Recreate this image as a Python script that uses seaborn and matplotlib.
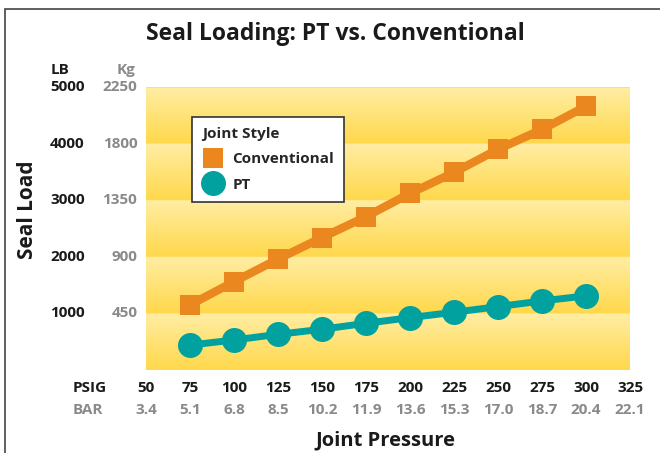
import numpy as np
import pandas as pd
import matplotlib
matplotlib.use("Agg")
import matplotlib.pyplot as plt
import seaborn as sns
from matplotlib.lines import Line2D
from matplotlib.patches import Rectangle
from matplotlib.colors import LinearSegmentedColormap

# datos
pressure = [75, 100, 125, 150, 175, 200, 225, 250, 275, 300]
conventional = [1150, 1560, 1960, 2340, 2710, 3120, 3490, 3900, 4250, 4660]
pt = [440, 530, 630, 720, 825, 925, 1020, 1120, 1220, 1310]

lb_ticks = [1000, 2000, 3000, 4000, 5000]
kg_labels = ["450", "900", "1350", "1800", "2250"]
psig_ticks = [50, 75, 100, 125, 150, 175, 200, 225, 250, 275, 300, 325]
bar_labels = ["3.4", "5.1", "6.8", "8.5", "10.2", "11.9", "13.6", "15.3",
              "17.0", "18.7", "20.4", "22.1"]

orange = "#EA871F"
teal = "#00A19F"
gray = "#8A8A8A"
dark = "#1A1A1A"

sns.set_style("white")
plt.rcParams["font.family"] = ["Open Sans", "DejaVu Sans"]
plt.rcParams["font.weight"] = "bold"

fig = plt.figure(figsize=(6.6, 4.53), dpi=100)
ax = fig.add_axes([146 / 660, 1 - 370 / 453, 484 / 660, 283 / 453])

# fondo con bandas en degradado
x0, x1 = 50, 325
y0, y1 = 0, 5000
cmap = LinearSegmentedColormap.from_list("band", ["#FFD84B", "#FFEDA3"])
rows = np.linspace(y1, y0, 500)
grad = ((rows % 1000) / 1000.0).reshape(-1, 1)
ax.imshow(grad, cmap=cmap, aspect="auto", extent=[x0, x1, y0, y1],
          interpolation="bilinear", zorder=0)

df = pd.DataFrame({"pressure": pressure, "Conventional": conventional, "PT": pt})

sns.lineplot(ax=ax, data=df, x="pressure", y="Conventional", color=orange,
             lw=6, marker="s", markersize=14.5, markeredgewidth=0, zorder=3)
sns.lineplot(ax=ax, data=df, x="pressure", y="PT", color=teal,
             lw=5, marker="o", markersize=18, markeredgewidth=0, zorder=3)

ax.set_xlim(x0, x1)
ax.set_ylim(y0, y1)
ax.set_xticks([])
ax.set_yticks([])
ax.set_xlabel("")
ax.set_ylabel("")
sns.despine(ax=ax, left=True, bottom=True)

fs = 11

# etiquetas eje Y (LB y Kg)
ytr = ax.get_yaxis_transform()
for v, kg in zip(lb_ticks, kg_labels):
    ax.text(-0.198, v, str(v), transform=ytr, ha="left", va="center",
            fontsize=fs, fontweight="bold", color=dark)
    ax.text(-0.018, v, kg, transform=ytr, ha="right", va="center",
            fontsize=fs, fontweight="bold", color=gray)
ax.text(-0.198, 5300, "LB", transform=ytr, ha="left", va="center",
        fontsize=fs, fontweight="bold", color=dark)
ax.text(-0.022, 5300, "Kg", transform=ytr, ha="right", va="center",
        fontsize=fs, fontweight="bold", color=gray)

# etiquetas eje X (PSIG y BAR)
xtr = ax.get_xaxis_transform()
for p, b in zip(psig_ticks, bar_labels):
    ax.text(p, -0.064, str(p), transform=xtr, ha="center", va="center",
            fontsize=fs, fontweight="bold", color=dark)
    ax.text(p, -0.141, b, transform=xtr, ha="center", va="center",
            fontsize=fs, fontweight="bold", color=gray)
ax.text(-0.151, -0.064, "PSIG", transform=ax.transAxes, ha="left", va="center",
        fontsize=fs, fontweight="bold", color=dark)
ax.text(-0.151, -0.141, "BAR", transform=ax.transAxes, ha="left", va="center",
        fontsize=fs, fontweight="bold", color=gray)

ax.text(0.494, -0.25, "Joint Pressure", transform=ax.transAxes, ha="center",
        va="center", fontsize=14.5, fontweight="bold", color=dark)
ax.text(-0.244, 0.565, "Seal Load", transform=ax.transAxes, ha="center",
        va="center", rotation=90, fontsize=15, fontweight="bold", color=dark)

fig.text(0.508, 1 - 34 / 453, "Seal Loading: PT vs. Conventional", ha="center",
         va="center", fontsize=16.5, fontweight="bold", color=dark)

# leyenda
handles = [
    Line2D([], [], linestyle="none", marker="s", markersize=14.5,
           markeredgewidth=0, color=orange, label="Conventional"),
    Line2D([], [], linestyle="none", marker="o", markersize=18,
           markeredgewidth=0, color=teal, label="PT"),
]
leg = ax.legend(handles=handles, title="Joint Style", loc="upper left",
                bbox_to_anchor=(0.095, 0.894), borderaxespad=0, fancybox=False,
                framealpha=1, edgecolor="#333333", prop={"size": fs, "weight": "bold"},
                title_fontproperties={"size": fs, "weight": "bold"},
                alignment="left", handlelength=1.5, handletextpad=0.5,
                labelspacing=0.75, borderpad=0.65)
leg.get_frame().set_linewidth(1.2)
leg.set_zorder(5)

# marco de la figura
fig.patches.append(Rectangle((5 / 660, -0.1), 2, 0.1 + 1 - 9 / 453, fill=False,
                             edgecolor="#444444", lw=1.2, transform=fig.transFigure))

fig.savefig("out.png", dpi=100, facecolor="white")
